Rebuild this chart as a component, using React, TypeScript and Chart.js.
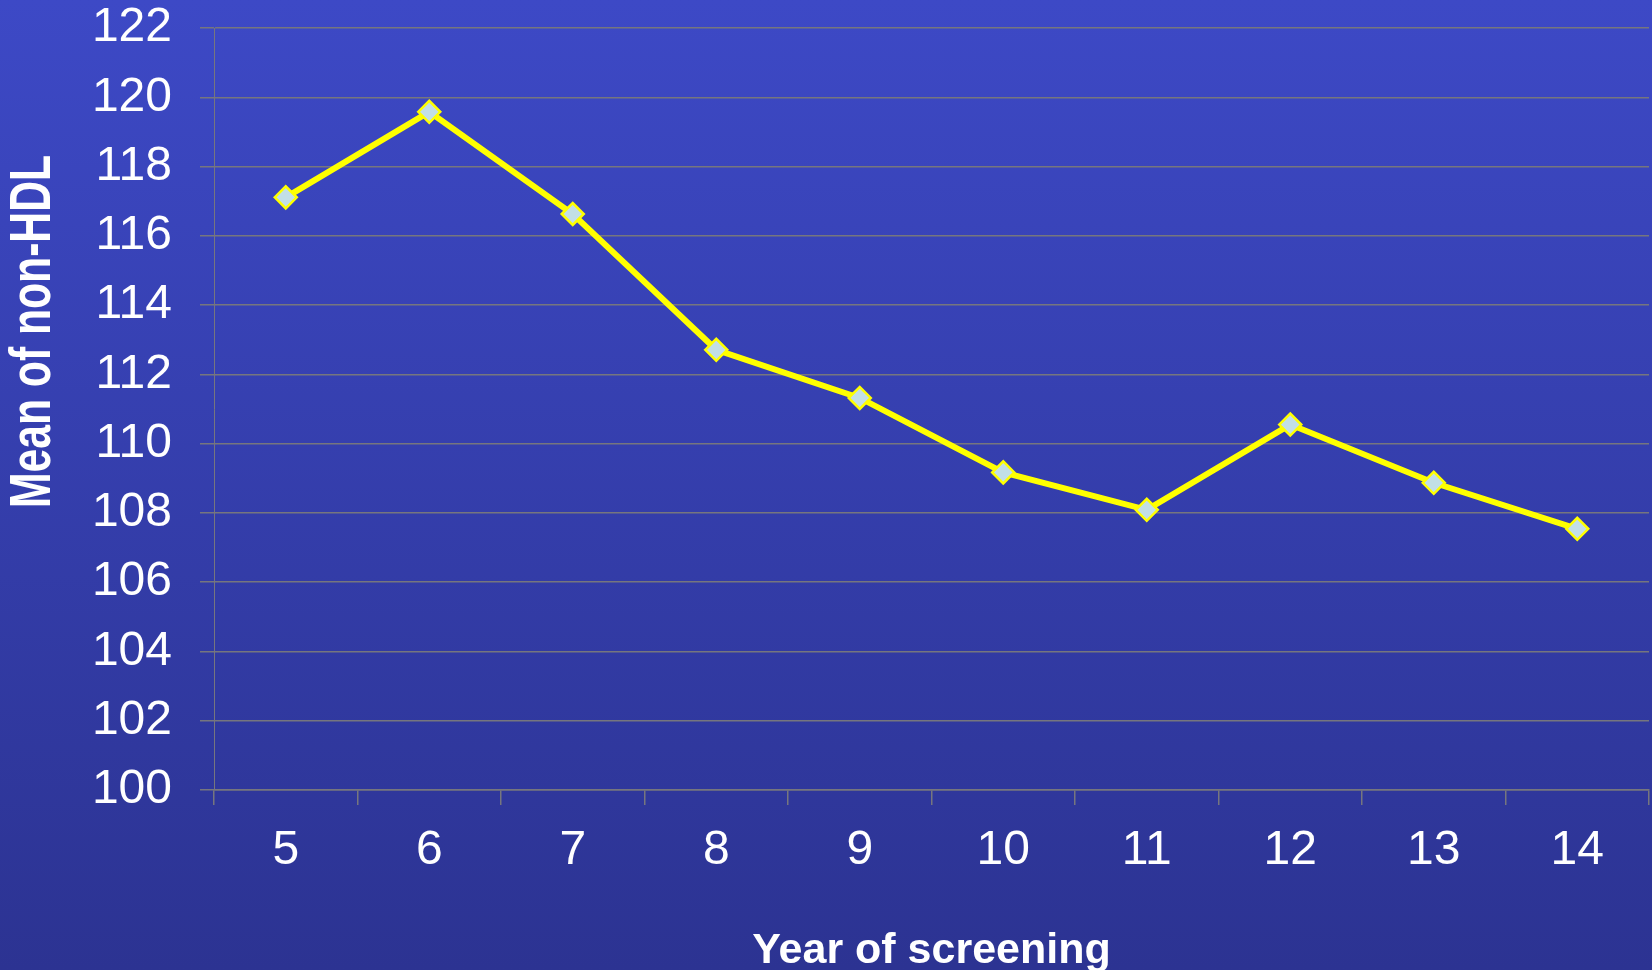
import React, { useEffect, useRef } from "react";
import { Chart, registerables } from "chart.js";

Chart.register(...registerables);

const categories = ["5", "6", "7", "8", "9", "10", "11", "12", "13", "14"];
const meanNonHdl = [117.11, 119.58, 116.63, 112.71, 111.32, 109.17, 108.09, 110.55, 108.87, 107.54];
const yMin = 100;
const yMax = 122;
const yStep = 2;
const xTitle = "Year of screening";
const yTitle = "Mean of non-HDL";

const FONT = '"Liberation Sans", Arial, sans-serif';
const GRID = "#76767e";

export default function App() {
  const ref = useRef<HTMLCanvasElement>(null);

  useEffect(() => {
    const bg = {
      id: "bg",
      beforeDraw(chart: any) {
        const { ctx, width, height } = chart;
        const g = ctx.createLinearGradient(0, 0, 0, height);
        g.addColorStop(0, "#3d49c6");
        g.addColorStop(1, "#2c3392");
        ctx.save();
        ctx.fillStyle = g;
        ctx.fillRect(0, 0, width, height);
        ctx.restore();
      },
    };
    const titles = {
      id: "titles",
      afterDraw(chart: any) {
        const { ctx, chartArea } = chart;
        ctx.save();
        ctx.fillStyle = "#ffffff";
        ctx.font = `bold 43px ${FONT}`;
        ctx.textAlign = "center";
        ctx.textBaseline = "alphabetic";
        ctx.fillText(xTitle, (chartArea.left + chartArea.right) / 2, 963);
        ctx.restore();

        ctx.save();
        ctx.fillStyle = "#ffffff";
        ctx.font = `bold 58px ${FONT}`;
        const w = ctx.measureText(yTitle).width;
        ctx.translate(49.5, 331.5);
        ctx.rotate(-Math.PI / 2);
        ctx.scale(353 / w, 1);
        ctx.textAlign = "center";
        ctx.textBaseline = "alphabetic";
        ctx.fillText(yTitle, 0, 0);
        ctx.restore();
      },
    };

    const chart = new Chart(ref.current as HTMLCanvasElement, {
      type: "line",
      data: {
        labels: categories,
        datasets: [
          {
            data: meanNonHdl,
            borderColor: "#ffff00",
            borderWidth: 6,
            pointStyle: "rectRot",
            pointRadius: 11,
            pointBackgroundColor: "#c2dfe6",
            pointBorderColor: "#ffff00",
            pointBorderWidth: 2.5,
            tension: 0,
          },
        ],
      },
      options: {
        responsive: false,
        animation: false,
        devicePixelRatio: 1,
        layout: { autoPadding: false, padding: { left: 0, top: 28, right: 3, bottom: 0 } },
        plugins: {
          legend: { display: false },
          tooltip: { enabled: false },
        },
        scales: {
          x: {
            type: "category",
            offset: true,
            grid: {
              display: true,
              drawOnChartArea: false,
              drawTicks: true,
              tickLength: 15,
              color: GRID,
              lineWidth: 1.5,
              offset: true,
            },
            border: { display: true, color: GRID, width: 1.5 },
            ticks: {
              color: "#ffffff",
              font: { family: FONT, size: 48 },
              padding: 17,
              maxRotation: 0,
              autoSkip: false,
            },
            afterFit: (s: any) => {
              s.height = 180;
              s.paddingLeft = 0;
              s.paddingRight = 0;
            },
          },
          y: {
            min: yMin,
            max: yMax,
            grid: {
              color: GRID,
              lineWidth: 1.5,
              drawTicks: true,
              tickLength: 14,
            },
            border: { display: true, color: GRID, width: 1 },
            ticks: {
              stepSize: yStep,
              color: "#ffffff",
              font: { family: FONT, size: 48 },
              padding: 28,
            },
            afterFit: (s: any) => {
              s.width = 214;
              s.paddingTop = 0;
              s.paddingBottom = 0;
            },
          },
        },
      },
      plugins: [bg, titles],
    });
    return () => chart.destroy();
  }, []);

  return (
    <div style={{ position: "fixed", left: 0, top: 0, width: 1652, height: 970 }}>
      <canvas ref={ref} width={1652} height={970} style={{ display: "block" }} />
    </div>
  );
}
